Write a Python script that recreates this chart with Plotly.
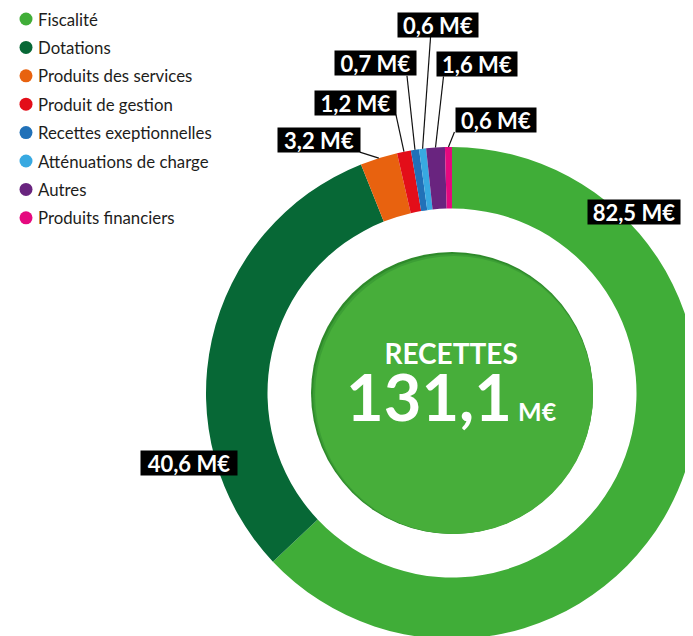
import math
import plotly.graph_objects as go

# ---------------- data ----------------
categories = ["Fiscalité", "Dotations", "Produits des services", "Produit de gestion",
              "Recettes exeptionnelles", "Atténuations de charge", "Autres", "Produits financiers"]
values = [82.5, 40.6, 3.2, 1.2, 0.7, 0.6, 1.6, 0.6]
value_labels = ["82,5 M€", "40,6 M€", "3,2 M€", "1,2 M€", "0,7 M€", "0,6 M€", "1,6 M€", "0,6 M€"]
center_title = "RECETTES"
center_total = "131,1"
center_unit = "M€"

# ---------------- style ----------------
colors = ["#40AD38", "#076836", "#E8620F", "#E30E19", "#2171B8", "#38A9E1", "#69247F", "#E5097F"]
W, H = 693, 636
PAGE = 8                       # browser body margin (page px = figure px + PAGE)
PIE_CX, PIE_CY, PIE_R = 452 - PAGE, 393 - PAGE, 246   # figure pixels
HOLE = 0.75
CENTER_R = 141
FONT = "Lato"

# legend layout (page pixels)
LEG_DOT_X, LEG_TEXT_X, LEG_Y0, LEG_DY, LEG_DOT_R = 26, 36, 19, 28.4, 6.5

# label box centre offset from the slice's outer mid-point (px), and leader line tail offset
label_offsets = [(-44, -279), (-23, 123), (-60, -18), (-48, -49), (-39, -87), (15, -124), (42, -84), (48, -27)]
leader_tails = [None, None, (-19, -6), (-8, -37), (-8, -74), (8, -112), (8, -71), (6, -15)]
label_widths = [92, 96, 82, 81, 81, 80, 80, 80]


def px(x):
    return x / W


def py(y):
    return 1 - y / H


cx, cy, R = PIE_CX, PIE_CY, PIE_R

fig = go.Figure()
fig.add_trace(go.Pie(
    labels=categories, values=values, hole=HOLE, sort=False, direction="clockwise",
    rotation=0, marker=dict(colors=colors, line=dict(width=0)),
    textinfo="none", hoverinfo="label+value", showlegend=False,
    domain=dict(x=[px(cx - R), px(cx + R)], y=[py(cy + R), py(cy - R)]),
))

shapes = []
annotations = []

# legend (dots + labels)
for i, (cat, col) in enumerate(zip(categories, colors)):
    ly = LEG_Y0 + LEG_DY * i - PAGE
    lx = LEG_DOT_X - PAGE
    shapes.append(dict(type="circle", xref="paper", yref="paper", layer="above",
                       x0=px(lx - LEG_DOT_R), x1=px(lx + LEG_DOT_R),
                       y0=py(ly + LEG_DOT_R), y1=py(ly - LEG_DOT_R),
                       fillcolor=col, line=dict(width=0)))
    annotations.append(dict(x=px(LEG_TEXT_X - PAGE), y=py(ly), xref="paper", yref="paper",
                            text=cat, showarrow=False, xanchor="left", yanchor="middle",
                            font=dict(family=FONT, size=16.8, color="#1D1D1B")))

# center disc (with a soft dark rim on the upper left)
shapes.append(dict(type="circle", xref="paper", yref="paper", layer="above",
                   x0=px(cx - CENTER_R), x1=px(cx + CENTER_R),
                   y0=py(cy + CENTER_R), y1=py(cy - CENTER_R),
                   fillcolor="#2E8A2A", line=dict(width=0)))
shapes.append(dict(type="circle", xref="paper", yref="paper", layer="above",
                   x0=px(cx - CENTER_R + 2), x1=px(cx + CENTER_R),
                   y0=py(cy + CENTER_R), y1=py(cy - CENTER_R + 2),
                   fillcolor="#3C9E35", line=dict(width=0)))
shapes.append(dict(type="circle", xref="paper", yref="paper", layer="above",
                   x0=px(cx - CENTER_R + 4), x1=px(cx + CENTER_R),
                   y0=py(cy + CENTER_R), y1=py(cy - CENTER_R + 4),
                   fillcolor="#47AE3A", line=dict(width=0)))

total = sum(values)
cum = 0.0
for i, v in enumerate(values):
    mid = (cum + v / 2) / total * 2 * math.pi
    cum += v
    tx = cx + R * math.sin(mid)
    ty = cy - R * math.cos(mid)
    ox, oy = label_offsets[i]
    if leader_tails[i] is not None:
        lx, ly = leader_tails[i]
        shapes.append(dict(type="line", xref="paper", yref="paper", layer="above",
                           x0=px(tx), y0=py(ty), x1=px(tx + lx), y1=py(ty + ly),
                           line=dict(color="#111111", width=1.2)))
    annotations.append(dict(x=px(tx + ox), y=py(ty + oy), xref="paper", yref="paper",
                            text=f"<b>{value_labels[i]}</b>", showarrow=False,
                            xanchor="center", yanchor="middle",
                            width=label_widths[i], height=24, align="center", valign="middle",
                            font=dict(family=FONT, size=22, color="white"),
                            bgcolor="black", borderpad=0))

center_text = (f"<span style='font-size:28px'><b>{center_title}</b></span><br>"
               f"<span style='font-size:65px'><b>{center_total}</b></span>"
               f"<span style='font-size:25px'><b> {center_unit}</b></span>")
annotations.append(dict(x=px(cx), y=py(cy - 8), xref="paper", yref="paper",
                        text=center_text, showarrow=False, align="center",
                        xanchor="center", yanchor="middle",
                        font=dict(family=FONT, size=44, color="white")))

fig.update_layout(
    width=W, height=H, margin=dict(l=0, r=0, t=0, b=0),
    paper_bgcolor="white", plot_bgcolor="white",
    shapes=shapes, annotations=annotations,
    showlegend=False,
)

fig.write_html("out.html")
